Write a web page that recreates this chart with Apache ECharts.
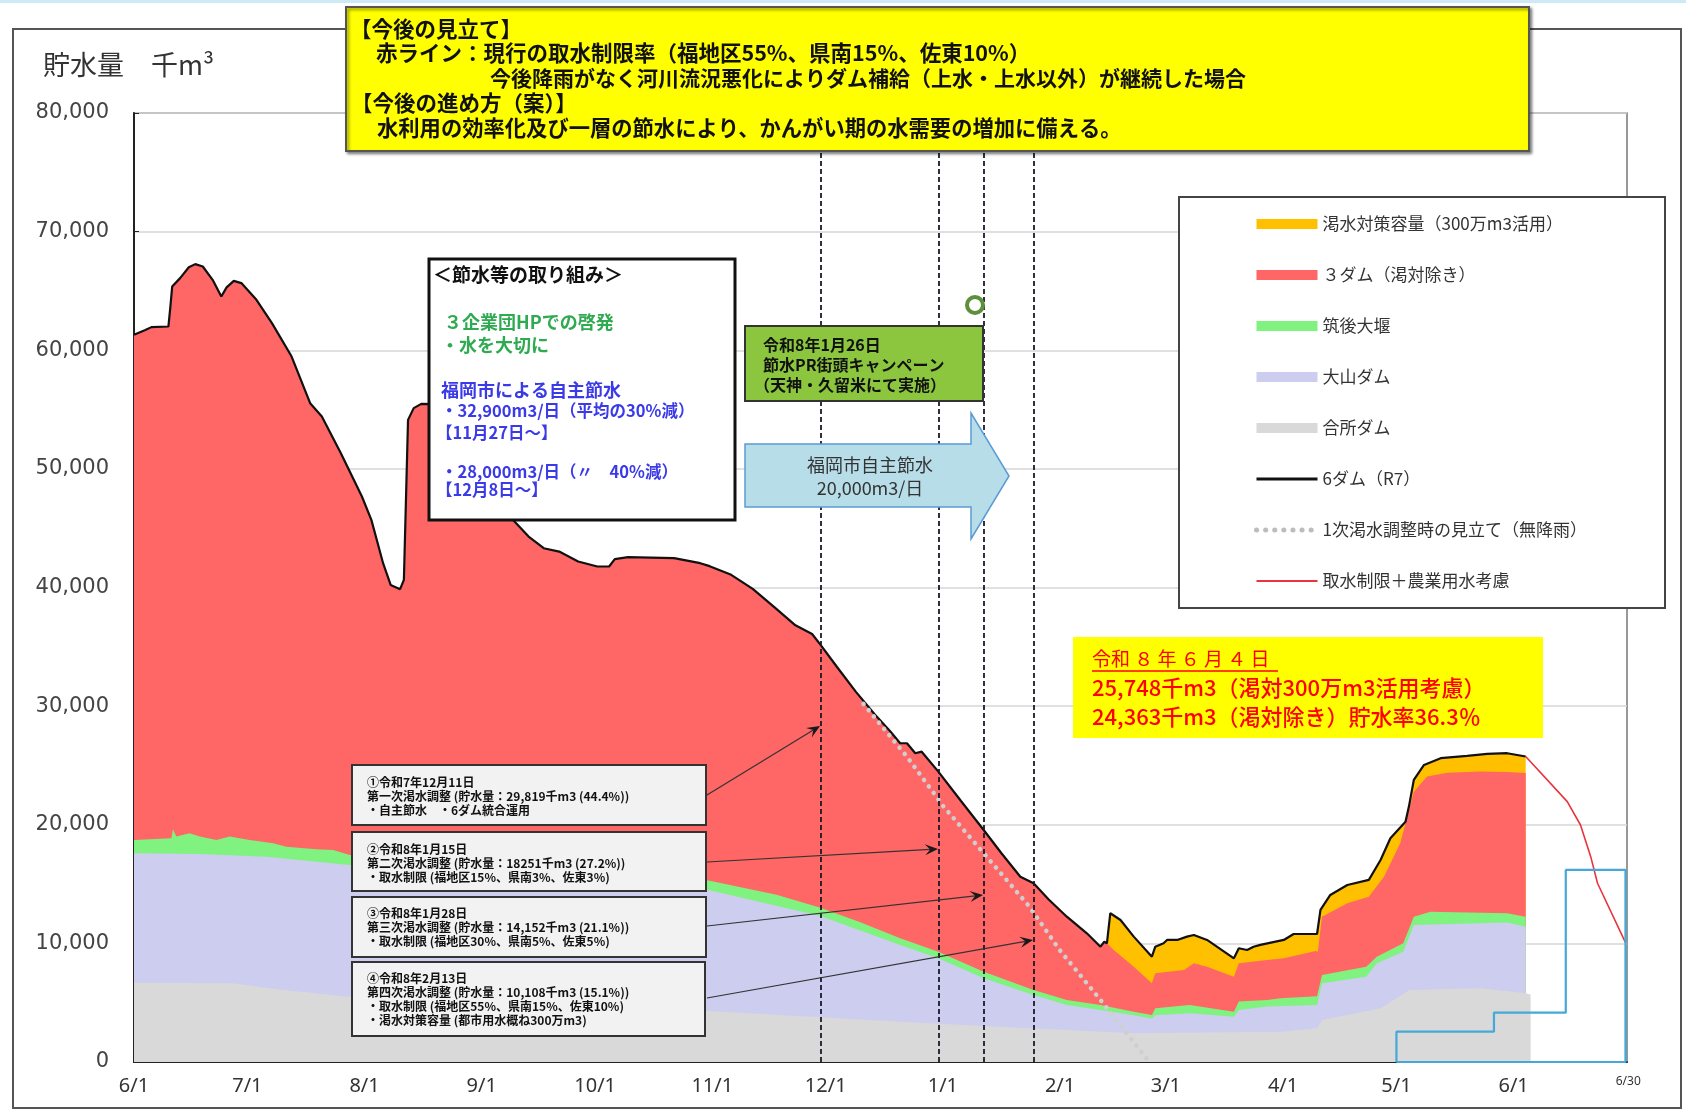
<!DOCTYPE html>
<html>
<head>
<meta charset="utf-8">
<script src="https://cdn.jsdelivr.net/npm/echarts@6.0.0/dist/echarts.min.js"></script>
<style>
  html, body { margin: 0; padding: 0; background: #fff; }
  #chart { width: 1686px; height: 1111px; }
</style>
</head>
<body>
<div id="chart"></div>
<script>
// x = days since 2025-06-01, y = 貯水量 (千m3)
const monthTicks = [0, 30, 61, 92, 122, 153, 183, 214, 245, 273, 304, 334, 365, 394];
const monthLabels = ['6/1', '7/1', '8/1', '9/1', '10/1', '11/1', '12/1', '1/1', '2/1', '3/1', '4/1', '5/1', '6/1', '6/30'];

// 6ダム（R7） total storage (black line)
const totalR7 = [
  [0, 61300], [3, 61700], [4.6, 61950], [9.1, 62000], [9.6, 63600], [10.1, 65370], [12.2, 66080],
  [14.5, 67000], [16.2, 67260], [18.2, 67060], [20.8, 65940], [23.1, 64530], [24.5, 65300],
  [26.4, 65850], [28.4, 65660], [32.4, 64250], [36.5, 62290], [41.7, 59470], [46.6, 55540],
  [49.7, 54410], [54.7, 51330], [60.3, 47670], [62.8, 45700], [65.9, 42050], [67.9, 40220],
  [70.4, 39860], [71.4, 40640], [72.5, 54130], [74, 55120], [76, 55480], [80, 55450], [85, 53800],
  [90, 51400], [95, 48600], [100.3, 45700], [104.4, 44290], [108.4, 43310], [112.5, 43030],
  [117.5, 42190], [122.6, 41770], [125.7, 41770], [127.2, 42390], [130.7, 42560], [142.9, 42470],
  [149.8, 42050], [152.3, 41800], [158, 41070], [163.7, 39890], [169.4, 38350], [175, 36810],
  [179.4, 36080], [181.6, 35180], [186, 33300], [191, 31200], [196, 29300], [200, 27900],
  [202.7, 26870], [204.5, 26870], [206.7, 26030], [208.4, 26160], [212.8, 24480], [218.8, 22000],
  [224.8, 19560], [229.5, 17600], [234.5, 15620], [238, 15070], [242, 13700], [246.8, 12250],
  [252.1, 10850], [255.7, 9720], [256.7, 10140], [257.4, 10010],
  [258.3, 12540], [261, 11970], [264.5, 10570], [269.3, 8880], [270.2, 9720], [272.4, 10010],
  [273.3, 10290], [276, 10290], [278.6, 10570], [280.4, 10710], [283.9, 10290], [291, 8740],
  [292.3, 9590], [294.5, 9440], [296.2, 9720], [298, 9870], [304.2, 10290], [306.8, 10790],
  [313, 10790], [313.9, 12820], [316.5, 14080], [321, 14920], [326.7, 15350], [329.8, 17030],
  [332.4, 18860], [336.4, 20260], [337.3, 21530], [338.6, 23780], [341.3, 25040], [345.7, 25610],
  [352.7, 25800], [358, 25970], [363.3, 26030], [368.2, 25750]
];
const droughtStart = 257.4; // 渇水対策容量 used from here on

// top of ３ダム（渇対除き） after the drought reserve starts
const redTopLate = [
  [259.2, 9440], [264.5, 8040], [269.3, 6630], [270.2, 7480], [277.8, 7760], [280.4, 8320],
  [283.9, 8040], [291, 7190], [292.3, 8320], [299.8, 8600], [304.2, 8750], [312.6, 9350],
  [313.2, 9300], [314.3, 12250], [321, 13380], [326.7, 13940], [330.7, 15620], [335, 18440],
  [338.6, 22790], [342.1, 24060], [347.4, 24390], [356.2, 24480], [363.3, 24450], [368.2, 24360]
];

// top of 筑後大堰 band
const chikugoTop = [
  [0, 18720], [9.9, 18860], [10.3, 19620], [11.2, 19000], [14.7, 19280], [17.4, 19000], [21.8, 18720],
  [25.3, 19000], [30.6, 18720], [36.8, 18440], [40.3, 18150], [48.3, 17930], [52.7, 17880],
  [57.1, 17450], [100, 16500], [152, 15300], [170, 14100], [181.6, 13000], [192, 11800],
  [202.7, 10430], [212.8, 9300], [224.8, 7610], [238, 6070], [246.8, 5230], [255.7, 4810],
  [264.5, 4240], [269.3, 3960], [270.2, 4530], [279.3, 4810], [291, 4240], [292.3, 5090],
  [299.8, 5230], [303.3, 5370], [313, 5550], [314.3, 7340], [326, 8040], [328.8, 8880],
  [335.8, 10010], [338.6, 12250], [343, 12670], [363.3, 12540], [368.2, 12250]
];

// top of 大山ダム band
const oyamaTop = [
  [0, 17600], [17.4, 17540], [35, 17310], [57.1, 16610], [100, 15800], [152, 14500], [181.6, 12300],
  [202.7, 9870], [212.8, 8740], [224.8, 7050], [238, 5650], [246.8, 4810], [255.7, 4390],
  [264.5, 3950], [269.3, 3670], [270.2, 3950], [279.3, 4110], [291, 3810], [292.3, 4390],
  [299.8, 4670], [313, 4800], [314.3, 6640], [326, 7190], [328.8, 8320], [335.8, 9300],
  [338.6, 11550], [363.3, 11750], [368.2, 11410]
];

// 合所ダム
const goushoTop = [
  [0, 6690], [26, 6630], [39.4, 6070], [57, 5510], [100, 4900], [152, 4300], [202.7, 3400],
  [229, 2980], [264.5, 2420], [303.3, 2560], [313, 2840], [314.3, 3540], [329.8, 4530],
  [337.5, 6070], [356.2, 6210], [368.2, 5790], [369.5, 5700]
];

// 1次渇水調整時の見立て（無降雨）
const firstForecast = [
  [193, 30190], [204.5, 25740], [214.2, 21530], [224.8, 17600], [236.9, 13100],
  [244.9, 9440], [255.7, 5230], [268.2, 170], [268.6, 0]
];

// 取水制限＋農業用水考慮
const restrictionForecast = [
  [368.2, 25750], [379.2, 21950], [382.7, 19980], [385.4, 17310], [387.2, 15070], [394.6, 10060]
];

// blue stepped outline (5/1 - 6/30)
const irrigationStep = [
  [334, 0], [334, 2560], [359.8, 2560], [359.8, 4160], [378.8, 4160], [378.8, 16190],
  [394.6, 16190], [394.6, 0], [334, 0]
];

// dashed marker dates (渇水調整)
const adjustmentDays = [181.6, 212.8, 224.8, 238.0];

const FONT = '"Noto Sans CJK JP", "Noto Sans", sans-serif';

function box(x, y, w, h, fill, stroke, lw, extra) {
  return Object.assign({
    type: 'rect', z: 100,
    shape: { x: x, y: y, width: w, height: h },
    style: { fill: fill, stroke: stroke, lineWidth: lw }
  }, extra || {});
}

function txt(x, y, text, size, color, weight, align) {
  return {
    type: 'text', z: 101, x: x, y: y,
    style: {
      text: text, fontSize: size, fontFamily: FONT, fontWeight: weight || 'normal', fill: color,
      align: align || 'left', textAlign: align || 'left',
      verticalAlign: 'middle', textVerticalAlign: 'middle'
    }
  };
}

function arrow(x1, y1, x2, y2) {
  const a = Math.atan2(y2 - y1, x2 - x1);
  const L = 13, W = 5.5;
  const c = Math.cos(a), s = Math.sin(a);
  const bx = x2 - L * c, by = y2 - L * s;
  const mx = x2 - L * 0.6 * c, my = y2 - L * 0.6 * s;
  return [
    { type: 'line', z: 100, shape: { x1: x1, y1: y1, x2: mx, y2: my }, style: { stroke: '#333', lineWidth: 1.2 } },
    { type: 'polygon', z: 100, shape: { points: [[x2, y2], [bx - s * W, by + c * W], [mx, my], [bx + s * W, by - c * W]] },
      style: { fill: '#1a1a1a' } }
  ];
}

const legendNames = ['渇水対策容量（300万m3活用）', '３ダム（渇対除き）', '筑後大堰', '大山ダム', '合所ダム',
  '6ダム（R7）', '1次渇水調整時の見立て（無降雨）', '取水制限＋農業用水考慮'];
const areaColors = ['#ffc000', '#ff6666', '#80f27f', '#cccdef', '#d9d9d9'];
const legendLines = [
  { color: '#111', width: 3 },
  { color: '#bdbdbd', width: 5, type: [0.1, 9], cap: 'round' },
  { color: '#e8343c', width: 2 }
];

function areaSeries(name, data, color) {
  return {
    name: name, type: 'line', data: data, symbol: 'none', silent: true, color: color,
    lineStyle: { width: 0 }, areaStyle: { color: color, opacity: 1 }
  };
}

const graphics = [
  { type: 'rect', z: 1, shape: { x: 0, y: 0, width: 1686, height: 3 }, style: { fill: '#cfeaf7' } },
  { type: 'rect', z: 1, shape: { x: 13, y: 29, width: 1668, height: 1079 }, style: { fill: 'none', stroke: '#555', lineWidth: 2 } },
  txt(43, 65, '貯水量　千m³', 27, '#333'),

  // 今後の見立て
  box(346, 7, 1183, 144, '#ffff00', '#555', 2,
    { style: { fill: '#ffff00', stroke: '#555', lineWidth: 2, shadowBlur: 3, shadowOffsetX: 2, shadowOffsetY: 2, shadowColor: 'rgba(0,0,0,0.45)' } }),
  txt(350, 29, '【今後の見立て】', 21.5, '#111', 'bold'),
  txt(376, 53, '赤ライン：現行の取水制限率（福地区55%、県南15%、佐東10%）', 21.5, '#111', 'bold'),
  txt(490, 78, '今後降雨がなく河川流況悪化によりダム補給（上水・上水以外）が継続した場合', 21, '#111', 'bold'),
  txt(351, 103, '【今後の進め方（案）】', 21.5, '#111', 'bold'),
  txt(377, 128, '水利用の効率化及び一層の節水により、かんがい期の水需要の増加に備える。', 21.3, '#111', 'bold'),

  // 節水等の取り組み
  box(429, 259, 306, 261, '#fff', '#111', 3),
  txt(433, 275, '＜節水等の取り組み＞', 19, '#111', 'bold'),
  txt(444, 322, '３企業団HPでの啓発', 18, '#2eaa50', 'bold'),
  txt(441, 345, '・水を大切に', 18, '#2eaa50', 'bold'),
  txt(441, 390, '福岡市による自主節水', 18, '#3a3ae8', 'bold'),
  txt(441, 411, '・32,900m3/日（平均の30%減）', 16.5, '#3a3ae8', 'bold'),
  txt(436, 433, '【11月27日～】', 16.5, '#3a3ae8', 'bold'),
  txt(441, 472, '・28,000m3/日（〃　40%減）', 16.5, '#3a3ae8', 'bold'),
  txt(436, 490, '【12月8日～】', 16.5, '#3a3ae8', 'bold'),

  // キャンペーン
  box(745, 326, 238, 75, '#8cc63f', '#333', 2),
  txt(763, 345, '令和8年1月26日', 16, '#111', 'bold'),
  txt(763, 365, '節水PR街頭キャンペーン', 16, '#111', 'bold'),
  txt(754, 385, '（天神・久留米にて実施）', 16, '#111', 'bold'),
  { type: 'circle', z: 100, shape: { cx: 975, cy: 305, r: 8 }, style: { fill: 'rgba(255,255,255,0.5)', stroke: '#5e8f3a', lineWidth: 4 } },

  // 福岡市自主節水 arrow
  { type: 'polygon', z: 100,
    shape: { points: [[745, 444], [971, 444], [971, 413], [1009, 476], [971, 539], [971, 507], [745, 507]] },
    style: { fill: '#b7dde8', stroke: '#5b9bd5', lineWidth: 1.5 } },
  txt(870, 465, '福岡市自主節水', 18, '#333', 'normal', 'center'),
  txt(870, 488, '20,000m3/日', 18, '#333', 'normal', 'center'),

  // 令和8年6月4日
  box(1073, 637, 470, 101, '#ffff00', 'none', 0),
  txt(1092, 659, '令和 ８ 年 ６ 月 ４ 日', 19, '#ff0000'),
  { type: 'line', z: 101, shape: { x1: 1092, y1: 671, x2: 1278, y2: 671 }, style: { stroke: '#ff0000', lineWidth: 1.5 } },
  txt(1092, 688, '25,748千m3（渇対300万m3活用考慮）', 22, '#ff0000', 500),
  txt(1092, 717, '24,363千m3（渇対除き）貯水率36.3％', 22, '#ff0000', 500),

  // 渇水調整 boxes
  box(352, 765, 354, 60, '#f2f2f2', '#333', 2),
  txt(367, 782, '①令和7年12月11日', 12, '#111', 'bold'),
  txt(367, 796, '第一次渇水調整 (貯水量：29,819千m3 (44.4%))', 12, '#111', 'bold'),
  txt(367, 810, '・自主節水　・6ダム統合運用', 12, '#111', 'bold'),
  box(352, 832, 354, 59, '#f2f2f2', '#333', 2),
  txt(367, 849, '②令和8年1月15日', 12, '#111', 'bold'),
  txt(367, 863, '第二次渇水調整 (貯水量：18251千m3 (27.2%))', 12, '#111', 'bold'),
  txt(367, 877, '・取水制限 (福地区15%、県南3%、佐東3%)', 12, '#111', 'bold'),
  box(352, 897, 354, 60, '#f2f2f2', '#333', 2),
  txt(367, 913, '③令和8年1月28日', 12, '#111', 'bold'),
  txt(367, 927, '第三次渇水調整 (貯水量：14,152千m3 (21.1%))', 12, '#111', 'bold'),
  txt(367, 941, '・取水制限 (福地区30%、県南5%、佐東5%)', 12, '#111', 'bold'),
  box(352, 962, 353, 74, '#f2f2f2', '#333', 2),
  txt(367, 978, '④令和8年2月13日', 12, '#111', 'bold'),
  txt(367, 992, '第四次渇水調整 (貯水量：10,108千m3 (15.1%))', 12, '#111', 'bold'),
  txt(367, 1006, '・取水制限 (福地区55%、県南15%、佐東10%)', 12, '#111', 'bold'),
  txt(367, 1020, '・渇水対策容量 (都市用水概ね300万m3)', 12, '#111', 'bold'),

  // legend frame
  box(1179, 197, 486, 411, '#fff', '#444', 2)
].concat(
  arrow(707, 795, 820, 726),
  arrow(707, 862, 938, 849),
  arrow(707, 926, 983, 895),
  arrow(707, 998, 1033, 940)
);

const chart = echarts.init(document.getElementById('chart'));
chart.setOption({
  animation: false,
  backgroundColor: '#fff',
  textStyle: { fontFamily: FONT },
  grid: { left: 134, right: 59, top: 113, bottom: 49, show: true, borderColor: '#777', borderWidth: 1.5, outerBoundsMode: 'none' },
  legend: {
    show: true, z: 200, orient: 'vertical', left: 1249, top: 208, selectedMode: false,
    itemWidth: 61, itemHeight: 10, itemGap: 29,
    textStyle: { fontSize: 17, lineHeight: 22, color: '#333', fontFamily: FONT },
    data: legendNames.map(function (n, i) {
      return i < 5
        ? { name: n, icon: 'rect', itemStyle: { color: areaColors[i] } }
        : { name: n, itemStyle: { opacity: 0 }, lineStyle: legendLines[i - 5] };
    })
  },
  xAxis: {
    type: 'value', min: 0, max: 395,
    axisLine: { lineStyle: { color: '#222', width: 2 } },
    axisTick: { inside: true, length: 6, customValues: monthTicks.slice(0, -1), lineStyle: { color: '#222', width: 1.5 } },
    splitLine: { show: false },
    axisLabel: {
      customValues: monthTicks, margin: 14, fontSize: 20, color: '#333', fontFamily: '"Noto Sans", sans-serif',
      formatter: function (v) {
        const i = monthTicks.indexOf(v);
        if (i < 0) return '';
        return i === monthTicks.length - 1 ? '{s|' + monthLabels[i] + '}' : monthLabels[i];
      },
      rich: { s: { fontSize: 12, color: '#333', padding: [0, 0, 10, 10], fontFamily: '"Noto Sans", sans-serif' } }
    }
  },
  yAxis: {
    type: 'value', min: 0, max: 80000, interval: 10000,
    axisLine: { show: true, lineStyle: { color: '#222', width: 2 } },
    axisTick: { show: true, inside: true, length: 5, lineStyle: { color: '#222' } },
    splitLine: { lineStyle: { color: '#d6d6d6', width: 1.5 } },
    axisLabel: {
      margin: 25, fontSize: 21, color: '#444', fontFamily: '"DejaVu Sans", sans-serif',
      formatter: function (v) { return v.toLocaleString('en-US'); }
    }
  },
  graphic: { elements: graphics },
  series: [
    areaSeries(legendNames[0], totalR7.filter(function (p) { return p[0] >= droughtStart; }), areaColors[0]),
    areaSeries(legendNames[1], totalR7.filter(function (p) { return p[0] <= droughtStart; }).concat(redTopLate), areaColors[1]),
    areaSeries(legendNames[2], chikugoTop, areaColors[2]),
    areaSeries(legendNames[3], oyamaTop, areaColors[3]),
    areaSeries(legendNames[4], goushoTop, areaColors[4]),
    {
      name: legendNames[5], type: 'line', data: totalR7, symbol: 'none', silent: true, color: '#111',
      lineStyle: { color: '#111', width: 2.2 },
      markLine: {
        silent: true, symbol: ['none', 'none'], label: { show: false },
        lineStyle: { color: '#1a1a2a', type: [5, 3], width: 1.8 },
        data: adjustmentDays.map(function (d) { return { xAxis: d }; })
      }
    },
    {
      name: legendNames[6], type: 'line', data: firstForecast, symbol: 'none', silent: true, color: '#c8c8c8',
      lineStyle: { color: '#cfcfcf', width: 4.5, type: [0.1, 8], cap: 'round' }
    },
    {
      name: legendNames[7], type: 'line', data: restrictionForecast, symbol: 'none', silent: true, color: '#e8343c',
      lineStyle: { color: '#e8343c', width: 1.6 }
    },
    {
      name: 'かんがい期', type: 'line', data: irrigationStep, symbol: 'none', silent: true, color: '#45a8d8',
      lineStyle: { color: '#45a8d8', width: 2.2 }
    }
  ]
});
</script>
</body>
</html>
